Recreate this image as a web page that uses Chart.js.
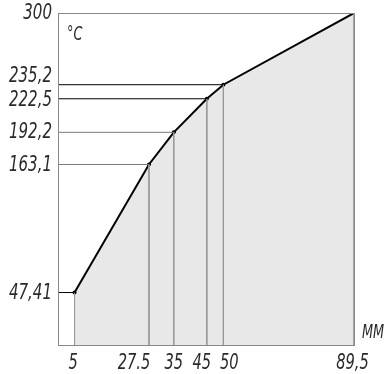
<!DOCTYPE html>
<html>
<head>
<meta charset="utf-8">
<script src="https://cdn.jsdelivr.net/npm/chart.js"></script>
<style>
html,body{margin:0;padding:0;background:#fff;}
#wrap{width:388px;height:374px;}
</style>
</head>
<body>
<div id="wrap"><canvas id="c" width="388" height="374"></canvas></div>
<script>
const xValues = [5, 27.5, 35, 45, 50, 89.5];
const yValues = [47.41, 163.1, 192.2, 222.5, 235.2, 300];
const xTickLabels = ['5', '27.5', '35', '45', '50', '89,5'];
const yTickLabels = ['47,41', '163,1', '192,2', '222,5', '235,2', '300'];
const yUnit = '°C';
const xUnit = 'MM';

// label nudges (style only), pixels
const xLabelShift = [-1.5, -15, 0, -5, 6, -1.5];
const yLabelShift = [1, 1, 0, 2, -8, 0];

const FONT = '"DejaVu Sans Condensed", "DejaVu Sans", sans-serif';
const hColors = ['#000', '#777', '#777', '#000', '#000', '#888'];

const datasets = [];
datasets.push({
  data: xValues.map((x, i) => ({x, y: yValues[i]})),
  borderColor: '#000', borderWidth: 2,
  backgroundColor: '#e8e8e8', fill: 'origin',
  pointRadius: 2, pointBackgroundColor: '#000', pointBorderWidth: 0,
  order: 10
});
xValues.forEach((x, i) => {
  datasets.push({
    data: [{x: 0, y: yValues[i]}, {x, y: yValues[i]}],
    borderColor: hColors[i], borderWidth: 1, pointRadius: 0, fill: false, order: 5
  });
  datasets.push({
    data: [{x, y: yValues[i]}, {x, y: 0}],
    borderColor: '#999', borderWidth: 1, pointRadius: 0, fill: false, order: 5
  });
});

function narrowText(ctx, text, x, y, align, sx) {
  ctx.save();
  ctx.translate(x, y);
  ctx.scale(sx, 1);
  ctx.textAlign = align;
  ctx.fillText(text, 0, 0);
  ctx.restore();
}

const frame = {
  id: 'frame',
  afterDatasetsDraw(chart) {
    const {ctx, chartArea: a, scales} = chart;
    ctx.save();
    ctx.strokeStyle = '#888';
    ctx.lineWidth = 1;
    ctx.strokeRect(Math.round(a.left) + 0.5, Math.round(a.top) + 0.5, Math.round(a.right - a.left), Math.round(a.bottom - a.top));
    ctx.fillStyle = '#2a2a2a';
    ctx.font = 'italic 22px ' + FONT;
    ctx.textBaseline = 'middle';
    yValues.forEach((v, i) => {
      narrowText(ctx, yTickLabels[i], a.left - 6, scales.y.getPixelForValue(v) + yLabelShift[i], 'right', 0.76);
    });
    xValues.forEach((v, i) => {
      narrowText(ctx, xTickLabels[i], scales.x.getPixelForValue(v) + xLabelShift[i], a.bottom + 18, 'center', 0.74);
    });
    ctx.font = 'italic 19px ' + FONT;
    narrowText(ctx, yUnit, a.left + 9, a.top + 22, 'left', 0.75);
    narrowText(ctx, xUnit, a.right + 8, a.bottom - 12, 'left', 0.75);
    ctx.restore();
  }
};

new Chart(document.getElementById('c'), {
  type: 'line',
  data: {datasets},
  options: {
    responsive: false, animation: false,
    layout: {padding: {left: 0, top: 13, right: 34, bottom: 0}},
    plugins: {legend: {display: false}, tooltip: {enabled: false}},
    scales: {
      x: {
        type: 'linear', min: 0, max: 89.5,
        afterBuildTicks: s => { s.ticks = xValues.map(v => ({value: v})); },
        afterFit: s => { s.height = 29; },
        grid: {display: false, drawTicks: false}, border: {display: false},
        ticks: {display: false}
      },
      y: {
        type: 'linear', min: 0, max: 300,
        afterBuildTicks: s => { s.ticks = yValues.map(v => ({value: v})); },
        afterFit: s => { s.width = 58; },
        grid: {display: false, drawTicks: false}, border: {display: false},
        ticks: {display: false}
      }
    }
  },
  plugins: [frame]
});
</script>
</body>
</html>
